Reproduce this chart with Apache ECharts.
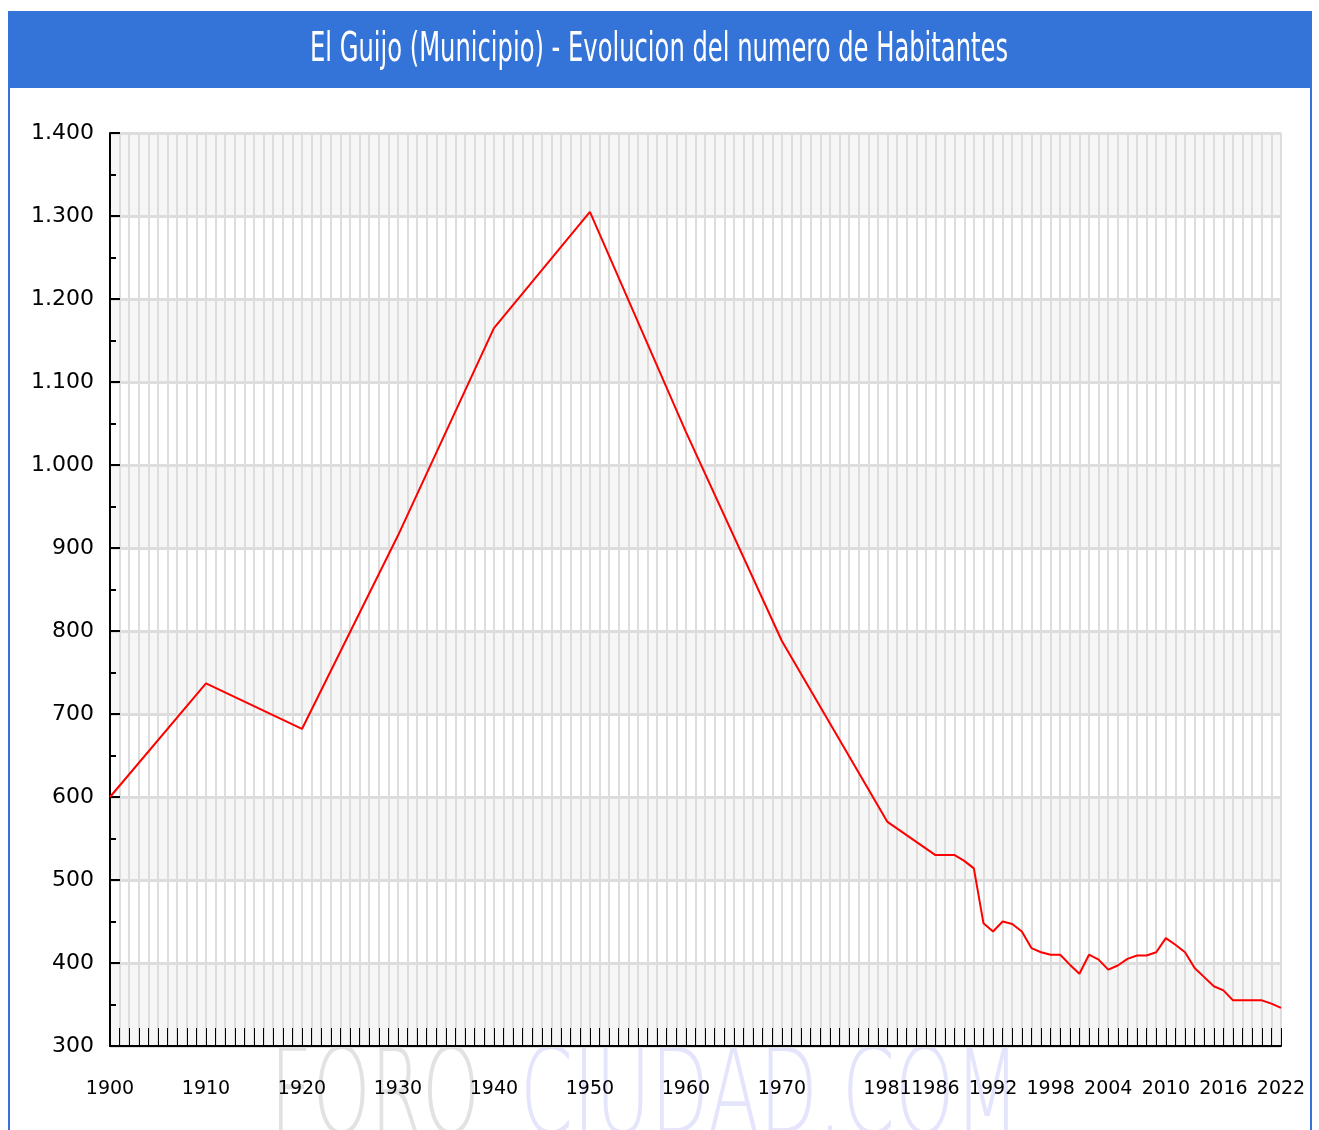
<!DOCTYPE html>
<html>
<head>
<meta charset="utf-8">
<title>El Guijo</title>
<script src="https://cdn.jsdelivr.net/npm/echarts@6/dist/echarts.min.js"></script>
<style>
  html, body { margin: 0; padding: 0; background: #fff; }
  #chart { width: 1319px; height: 1130px; }
</style>
</head>
<body>
<div id="chart"></div>
<script>
  // eje x: un hueco por año
  var years = [];
  for (var y = 1900; y <= 2022; y++) {
    years.push(String(y));
  }
  var labelYears = ['1900', '1910', '1920', '1930', '1940', '1950', '1960', '1970',
    '1981', '1986', '1992', '1998', '2004', '2010', '2016', '2022'];

  // habitantes
  var dataYears = ['1900', '1910', '1920', '1930', '1940', '1950', '1960', '1970', '1981',
    '1986', '1987', '1988', '1989', '1990', '1991', '1992', '1993', '1994', '1995',
    '1996', '1997', '1998', '1999', '2000', '2001', '2002', '2003', '2004', '2005',
    '2006', '2007', '2008', '2009', '2010', '2011', '2012', '2013', '2014', '2015',
    '2016', '2017', '2018', '2019', '2020', '2021', '2022'];
  var habitantes = [600, 737, 682, 915, 1165, 1305, 1040, 788, 570,
    530, 530, 530, 523, 514, 448, 438, 450, 447, 438,
    418, 413, 410, 410, 398, 387, 410, 404, 392, 397,
    405, 409, 409, 413, 430, 422, 413, 394, 383, 372,
    367, 355, 355, 355, 355, 351, 346];

  var titulo = 'El Guijo (Municipio) - Evolucion del numero de Habitantes';

  var seriesData = [];
  for (var i = 0; i < dataYears.length; i++) {
    seriesData.push([dataYears[i], habitantes[i]]);
  }

  function textWidth(text, size, family, weight) {
    var ctx = document.createElement('canvas').getContext('2d');
    ctx.font = (weight || 'normal') + ' ' + size + 'px ' + family;
    return ctx.measureText(text).width;
  }

  function fmt(v) {
    if (v >= 1000) {
      var r = String(v % 1000);
      while (r.length < 3) r = '0' + r;
      return Math.floor(v / 1000) + '.' + r;
    }
    return String(v);
  }

  var blue = '#3473d7';
  var font = '"DejaVu Sans"';
  var titleScale = 698 / textWidth(titulo, 40, font);
  var foroScale = 210 / textWidth('FORO', 120, font, 200);
  var ciudadScale = 500 / textWidth('CIUDAD.COM', 120, font, 200);

  var chart = echarts.init(document.getElementById('chart'));
  chart.setOption({
    animation: false,
    backgroundColor: '#fff',
    graphic: [
      {
        type: 'text', x: 270, y: 1042, z: -10, scaleX: foroScale,
        style: { text: 'FORO', fontSize: 120, fontWeight: 200, fontFamily: 'DejaVu Sans', fill: '#e2e2e2' }
      },
      {
        type: 'text', x: 520, y: 1042, z: -10, scaleX: ciudadScale,
        style: { text: 'CIUDAD.COM', fontSize: 120, fontWeight: 200, fontFamily: 'DejaVu Sans', fill: '#e4e4fc' }
      },
      {
        type: 'rect', z: 10,
        shape: { x: 9, y: 12, width: 1302, height: 1130 },
        style: { fill: null, stroke: blue, lineWidth: 2 }
      },
      {
        type: 'rect', z: 10,
        shape: { x: 9, y: 12, width: 1302, height: 76 },
        style: { fill: blue }
      },
      {
        type: 'text', x: 659, y: 51, z: 11, scaleX: titleScale,
        style: {
          text: titulo, fontSize: 40, fontFamily: 'DejaVu Sans', fill: '#fff',
          textAlign: 'center', textVerticalAlign: 'middle'
        }
      }
    ],
    grid: {
      left: 110,
      right: 38,
      top: 133,
      bottom: 84
    },
    xAxis: {
      type: 'category',
      data: years,
      boundaryGap: false,
      axisLine: { lineStyle: { color: '#000', width: 2 } },
      axisTick: { inside: true, length: 18, interval: 0, lineStyle: { color: '#000' } },
      axisLabel: {
        interval: function (index, value) {
          return labelYears.indexOf(value) >= 0;
        },
        color: '#000',
        fontFamily: 'DejaVu Sans',
        fontSize: 19,
        margin: 34
      },
      splitLine: { show: true, interval: 0, lineStyle: { color: '#dddddd', width: 2 } }
    },
    yAxis: {
      type: 'value',
      min: 300,
      max: 1400,
      interval: 100,
      axisLine: { show: true, lineStyle: { color: '#000', width: 2 } },
      axisTick: { show: true, inside: true, length: 10, lineStyle: { color: '#000', width: 2 } },
      minorTick: { show: true, splitNumber: 2, length: 6, lineStyle: { color: '#000', width: 2 } },
      axisLabel: {
        formatter: fmt,
        color: '#000',
        fontFamily: 'DejaVu Sans',
        fontSize: 22,
        margin: 16
      },
      splitLine: { show: true, lineStyle: { color: '#dddddd', width: 3 } },
      splitArea: { show: true, areaStyle: { color: ['#f6f6f6', '#ffffff'] } }
    },
    series: [
      {
        name: 'Habitantes',
        type: 'line',
        data: seriesData,
        showSymbol: false,
        symbol: 'none',
        lineStyle: { color: '#ff0000', width: 2 },
        itemStyle: { color: '#ff0000' }
      }
    ]
  });
</script>
</body>
</html>
